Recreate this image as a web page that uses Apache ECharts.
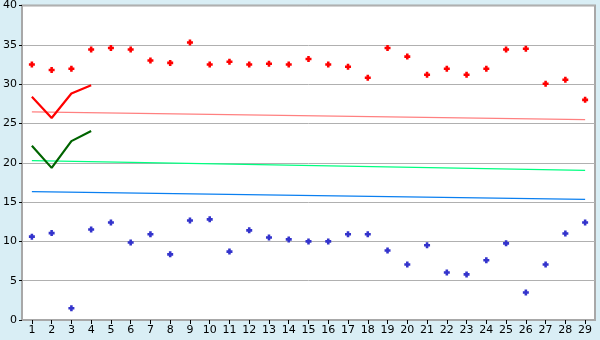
<!DOCTYPE html>
<html><head><meta charset="utf-8">
<script src="https://cdn.jsdelivr.net/npm/echarts@6/dist/echarts.min.js"></script>
<style>html,body{margin:0;padding:0;background:#d9eef5;}#c{width:600px;height:340px;}</style>
</head><body><div id="c"></div>
<script>
var categories = ['1','2','3','4','5','6','7','8','9','10','11','12','13','14','15','16','17','18','19','20','21','22','23','24','25','26','27','28','29'];
var redPoints = [32.5,31.8,31.95,34.4,34.6,34.4,33.0,32.7,35.3,32.5,32.85,32.5,32.6,32.5,33.2,32.5,32.2,30.8,34.6,33.5,31.2,31.95,31.2,31.95,34.4,34.5,30.05,30.55,28.0];
var bluePoints = [10.6,11.05,1.5,11.5,12.4,9.85,10.9,8.35,12.65,12.8,8.7,11.4,10.5,10.25,10.0,10.0,10.9,10.9,8.85,7.05,9.5,6.05,5.8,7.6,9.75,3.5,7.05,11.0,12.4];
var redLine = [28.4,25.7,28.8,29.85];
var greenLine = [22.15,19.35,22.75,24.05];
var pinkTrend = [[0,26.47],[28,25.48]];
var greenTrend = [[0,20.27],[28,19.03]];
var blueTrend = [[0,16.34],[28,15.33]];
var yTicks = {min:0, max:40, interval:5};

var plus = 'path://M2,0H5V2H7V5H5V7H2V5H0V2H2Z';
var chart = echarts.init(document.getElementById('c'));
chart.setOption({
  backgroundColor:'#d9eef5',
  animation:false,
  grid:{left:20,right:5,top:5,bottom:20,show:true,backgroundColor:'#ffffff',borderColor:'#a8a8a8',borderWidth:2},
  xAxis:{type:'category',data:categories,boundaryGap:true,
    axisLine:{lineStyle:{color:'#a8a8a8',width:1}},
    axisTick:{show:true,alignWithLabel:true,length:4,lineStyle:{color:'#000'}},
    axisLabel:{color:'#000',fontFamily:'DejaVu Sans',fontSize:11,margin:5,interval:0},
    splitLine:{show:false}},
  yAxis:{type:'value',min:yTicks.min,max:yTicks.max,interval:yTicks.interval,
    axisLine:{show:true,lineStyle:{color:'#a8a8a8'}},
    axisTick:{show:true,length:3,lineStyle:{color:'#000'}},
    axisLabel:{color:'#000',fontFamily:'DejaVu Sans',fontSize:11,margin:5,verticalAlign:'middle'},
    splitLine:{lineStyle:{color:'#b0b0b0',width:1}}},
  series:[
    {type:'line',data:pinkTrend,symbol:'none',lineStyle:{color:'#ff8080',width:1.3},z:2},
    {type:'line',data:greenTrend,symbol:'none',lineStyle:{color:'#00ff80',width:1.3},z:2},
    {type:'line',data:blueTrend,symbol:'none',lineStyle:{color:'#0a7ff0',width:1.3},z:2},
    {type:'line',data:redLine,symbol:'none',lineStyle:{color:'#ff0000',width:2.2},z:3},
    {type:'line',data:greenLine,symbol:'none',lineStyle:{color:'#006400',width:2.2},z:3},
    {type:'scatter',data:redPoints,symbol:plus,symbolSize:6,itemStyle:{color:'#ff0000',opacity:1},z:4},
    {type:'scatter',data:bluePoints,symbol:plus,symbolSize:6,itemStyle:{color:'#3333cc',opacity:1},z:4}
  ]
});
</script></body></html>
